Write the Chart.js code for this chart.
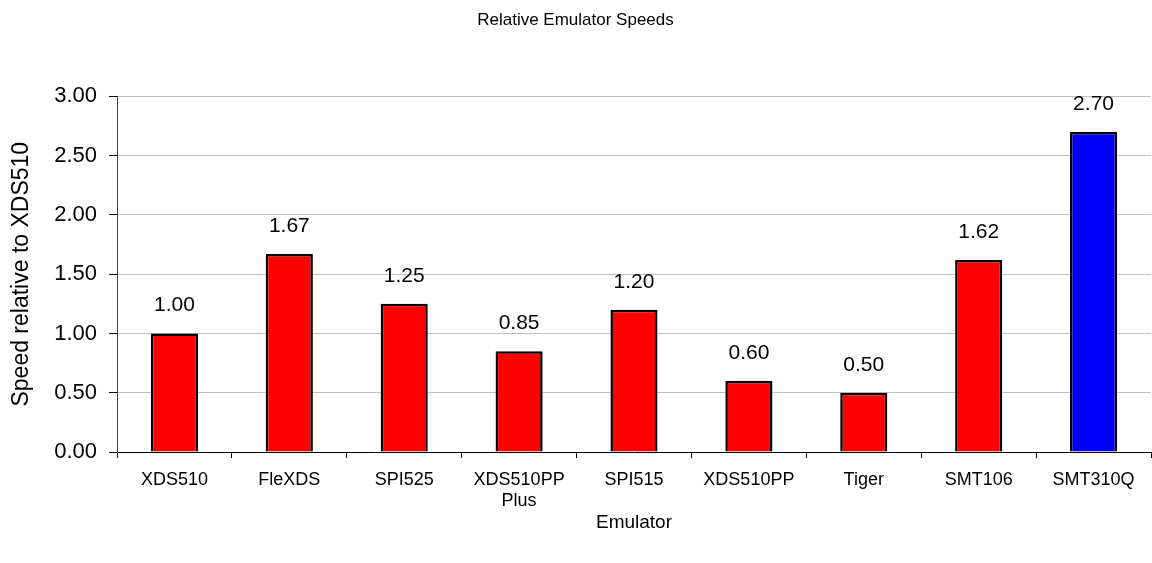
<!DOCTYPE html>
<html>
<head>
<meta charset="utf-8">
<script src="https://cdn.jsdelivr.net/npm/chart.js@4"></script>
<style>
html,body{margin:0;padding:0;background:#fff;}
#wrap{width:1152px;height:563px;}
</style>
</head>
<body>
<div id="wrap"><canvas id="c" width="1152" height="563"></canvas></div>
<script>
const categories = ["XDS510", "FleXDS", "SPI525", ["XDS510PP", "Plus"], "SPI515", "XDS510PP", "Tiger", "SMT106", "SMT310Q"];
const speeds = [1.00, 1.67, 1.25, 0.85, 1.20, 0.60, 0.50, 1.62, 2.70];
const highlightIndex = 8;
const chartTitle = "Relative Emulator Speeds";
const xTitle = "Emulator";
const yTitle = "Speed relative to XDS510";

const FONT = "'Liberation Sans', Arial, sans-serif";

const valueLabels = {
  id: 'valueLabels',
  afterDatasetsDraw(chart) {
    const ctx = chart.ctx;
    const meta = chart.getDatasetMeta(0);
    ctx.save();
    ctx.font = "21px " + FONT;
    ctx.fillStyle = "#000";
    ctx.textAlign = "center";
    ctx.textBaseline = "alphabetic";
    meta.data.forEach((el, i) => {
      ctx.fillText(speeds[i].toFixed(2), el.x, el.y - 22);
    });
    ctx.restore();
  }
};

new Chart(document.getElementById('c'), {
  type: 'bar',
  data: {
    labels: categories,
    datasets: [{
      data: speeds,
      backgroundColor: speeds.map((v, i) => i === highlightIndex ? '#0000ff' : '#ff0000'),
      borderColor: '#000',
      borderWidth: 2.5,
      borderSkipped: 'bottom',
      categoryPercentage: 1.0,
      barPercentage: 0.41
    }]
  },
  options: {
    responsive: false,
    animation: false,
    devicePixelRatio: 1,
    layout: { padding: { top: 0, right: 1, bottom: 0, left: 0 } },
    plugins: {
      legend: { display: false },
      tooltip: { enabled: false },
      title: {
        display: true,
        text: chartTitle,
        color: '#000',
        font: { family: FONT, size: 17, weight: 'normal' },
        padding: { top: 10, bottom: 66 }
      }
    },
    scales: {
      x: {
        offset: true,
        grid: { display: true, drawOnChartArea: false, offset: true, tickLength: 6, color: '#000', tickWidth: 1 },
        border: { display: true, color: '#000', width: 1 },
        ticks: { color: '#000', font: { family: FONT, size: 18 }, padding: 11, maxRotation: 0, autoSkip: false },
        title: { display: true, text: xTitle, color: '#000', font: { family: FONT, size: 19 }, padding: { top: 0, bottom: 29 } },
        afterFit(scale) { scale.height = 111; }
      },
      y: {
        min: 0, max: 3,
        grid: { color: '#c0c0c0', tickColor: '#000', tickLength: 8, lineWidth: 1 },
        border: { display: true, color: '#444', width: 1 },
        ticks: { stepSize: 0.5, color: '#000', font: { family: FONT, size: 22 }, padding: 12,
          callback: v => v.toFixed(2) },
        title: { display: true, text: yTitle, color: '#000', font: { family: FONT, size: 23 }, padding: { top: 8, bottom: 0 } },
        afterFit(scale) { scale.width = 117; }
      }
    }
  },
  plugins: [valueLabels]
});
</script>
</body>
</html>
